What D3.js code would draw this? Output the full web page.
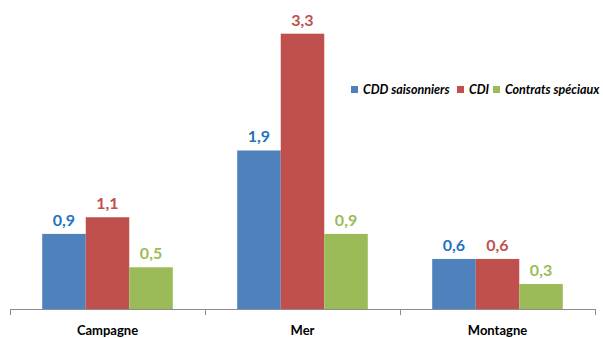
<!DOCTYPE html>
<html>
<head>
<meta charset="utf-8">
<script src="https://cdn.jsdelivr.net/npm/d3@7/dist/d3.min.js"></script>
<style>
  html, body { margin: 0; padding: 0; background: #fff; }
  svg { display: block; font-family: Lato, "Open Sans", sans-serif; }
</style>
</head>
<body>
<svg id="chart" width="603" height="338"></svg>
<script>
// Categories and series
const categories = ["Campagne", "Mer", "Montagne"];
const seriesNames = ["CDD saisonniers", "CDI", "Contrats spéciaux"];
const cddValues = [0.9, 1.9, 0.6];
const cdiValues = [1.1, 3.3, 0.6];
const specValues = [0.5, 0.9, 0.3];
const valueLabels = [
  ["0,9", "1,9", "0,6"],
  ["1,1", "3,3", "0,6"],
  ["0,5", "0,9", "0,3"]
];

const seriesValues = [cddValues, cdiValues, specValues];
const barColors = ["#4F81BD", "#C0504D", "#9BBB59"];
const labelColors = ["#1F74C0", "#C0504D", "#9BBB59"];

const svg = d3.select("#chart");
const margin = { left: 10, right: 8, top: 17, bottom: 29 };
const width = 603, height = 338;
const baseline = height - margin.bottom;

const x0 = d3.scaleBand()
  .domain(categories)
  .range([margin.left, width - margin.right])
  .paddingInner(0)
  .paddingOuter(0);

const x1 = d3.scaleBand()
  .domain(seriesNames)
  .range([0, x0.bandwidth()])
  .paddingOuter(0.74)
  .paddingInner(0);

const y = d3.scaleLinear()
  .domain([0, 3.5])
  .range([baseline, margin.top]);

// Bars and value labels
seriesNames.forEach((name, si) => {
  const g = svg.append("g");
  g.selectAll("rect")
    .data(seriesValues[si])
    .join("rect")
    .attr("x", (d, i) => x0(categories[i]) + x1(name))
    .attr("y", d => y(d))
    .attr("width", x1.bandwidth())
    .attr("height", d => baseline - y(d))
    .attr("fill", barColors[si]);

  g.selectAll("text")
    .data(seriesValues[si])
    .join("text")
    .attr("x", (d, i) => x0(categories[i]) + x1(name) + x1.bandwidth() / 2)
    .attr("y", d => y(d) - 8)
    .attr("text-anchor", "middle")
    .attr("font-size", 16)
    .attr("font-weight", "bold")
    .attr("fill", labelColors[si])
    .text((d, i) => valueLabels[si][i]);
});

// Category axis with boundary ticks
const axis = svg.append("g");
axis.append("line")
  .attr("x1", x0.range()[0]).attr("x2", x0.range()[1])
  .attr("y1", baseline + 0.5).attr("y2", baseline + 0.5)
  .attr("stroke", "#8c8c8c").attr("stroke-width", 1);
const bounds = categories.map(c => x0(c)).concat([x0.range()[1]]);
axis.selectAll("line.tick")
  .data(bounds)
  .join("line")
  .attr("class", "tick")
  .attr("x1", d => Math.round(d) + 0.5).attr("x2", d => Math.round(d) + 0.5)
  .attr("y1", baseline).attr("y2", baseline + 6)
  .attr("stroke", "#8c8c8c");
axis.selectAll("text")
  .data(categories)
  .join("text")
  .attr("x", d => x0(d) + x0.bandwidth() / 2)
  .attr("y", baseline + 26)
  .attr("text-anchor", "middle")
  .attr("font-size", 13)
  .attr("font-weight", "bold")
  .attr("fill", "#000")
  .text(d => d);

// Legend
const legendItems = [
  { name: seriesNames[0], color: barColors[0], x: 351 },
  { name: seriesNames[1], color: barColors[1], x: 457 },
  { name: seriesNames[2], color: barColors[2], x: 493 }
];
const legend = svg.append("g");
legend.selectAll("rect")
  .data(legendItems)
  .join("rect")
  .attr("x", d => d.x).attr("y", 86)
  .attr("width", 7).attr("height", 7)
  .attr("fill", d => d.color);
legend.selectAll("text")
  .data(legendItems)
  .join("text")
  .attr("x", d => d.x + 12).attr("y", 94)
  .attr("font-size", 12.5)
  .attr("font-weight", "bold")
  .attr("font-style", "italic")
  .attr("fill", "#000")
  .text(d => d.name);
</script>
</body>
</html>
